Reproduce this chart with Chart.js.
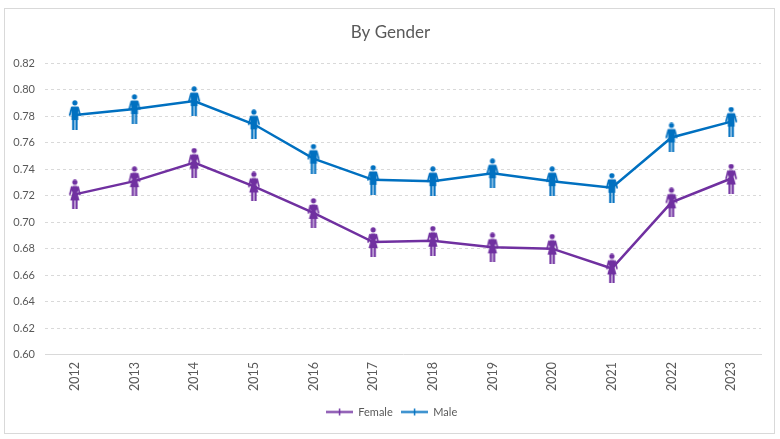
<!DOCTYPE html>
<html>
<head>
<meta charset="utf-8">
<style>
  html, body { margin: 0; padding: 0; background: #fff; }
  #wrap { position: absolute; left: 0; top: 0; width: 780px; height: 439px; }
  #frame { position: absolute; left: 4px; top: 8px; width: 769px; height: 424px; border: 1px solid #d9d9d9; }
</style>
</head>
<body>
<div id="frame"></div>
<div id="wrap"><canvas id="chart" width="780" height="439"></canvas></div>
<script src="https://cdn.jsdelivr.net/npm/chart.js@4"></script>
<script>
const years = ['2012','2013','2014','2015','2016','2017','2018','2019','2020','2021','2022','2023'];
const female = [0.721,0.731,0.745,0.727,0.707,0.685,0.686,0.681,0.680,0.665,0.715,0.733];
const male = [0.781,0.7855,0.7915,0.774,0.748,0.732,0.731,0.737,0.731,0.726,0.764,0.776];
const yTicks = [0.60,0.62,0.64,0.66,0.68,0.70,0.72,0.74,0.76,0.78,0.80,0.82];

const purple = '#7030a0';
const blue = '#0070c0';
const grey = '#595959';
const font = 'Lato, "Open Sans", sans-serif';

// person markers, used as point styles
function personIcon(color, isFemale) {
  const c = document.createElement('canvas');
  c.width = 16;
  c.height = 30;
  const g = c.getContext('2d');
  g.fillStyle = color;
  g.strokeStyle = color;
  g.beginPath();
  g.arc(8, 2.8, 2.6, 0, Math.PI * 2);
  g.fill();
  g.beginPath();
  if (isFemale) {
    g.moveTo(5.8, 6.5);
    g.lineTo(10.2, 6.5);
    g.lineTo(12, 10);
    g.lineTo(10.4, 13);
    g.lineTo(12.6, 21);
    g.lineTo(3.4, 21);
    g.lineTo(5.6, 13);
    g.lineTo(4, 10);
  } else {
    g.moveTo(4.6, 6.5);
    g.lineTo(11.4, 6.5);
    g.lineTo(11.4, 20);
    g.lineTo(4.6, 20);
  }
  g.closePath();
  g.fill();
  // arms
  g.lineCap = 'round';
  g.lineWidth = 1.7;
  g.beginPath();
  g.moveTo(4.8, 7.5);
  g.lineTo(isFemale ? 3 : 2.8, 15);
  g.moveTo(11.2, 7.5);
  g.lineTo(isFemale ? 13 : 13.2, 15);
  g.stroke();
  // legs
  g.lineCap = 'butt';
  g.lineWidth = 2.2;
  g.beginPath();
  g.moveTo(6.4, 19);
  g.lineTo(6.4, 30);
  g.moveTo(9.6, 19);
  g.lineTo(9.6, 30);
  g.stroke();
  return c;
}

// legend key: line with a small tick
function legendKey(color) {
  const c = document.createElement('canvas');
  c.width = 27;
  c.height = 9;
  const g = c.getContext('2d');
  g.fillStyle = color;
  g.fillRect(0, 3.5, 27, 2);
  g.fillRect(13, 1, 1.4, 7);
  return c;
}

const femaleKey = legendKey(purple);
const maleKey = legendKey(blue);

// title and legend sit a bit right of the canvas centre in the original
const nudgeBlocks = {
  id: 'nudgeBlocks',
  afterLayout(chart) {
    chart.titleBlock.left += 4;
    chart.titleBlock.right += 4;
    chart.legend.left += 5;
    chart.legend.right += 5;
  }
};

new Chart(document.getElementById('chart'), {
  type: 'line',
  plugins: [nudgeBlocks],
  data: {
    labels: years,
    datasets: [
      {
        label: 'Female',
        data: female,
        borderColor: purple,
        backgroundColor: purple,
        borderWidth: 2.5,
        tension: 0,
        pointStyle: personIcon(purple, true)
      },
      {
        label: 'Male',
        data: male,
        borderColor: blue,
        backgroundColor: blue,
        borderWidth: 2.5,
        tension: 0,
        pointStyle: personIcon(blue, false)
      }
    ]
  },
  options: {
    responsive: false,
    animation: false,
    layout: { padding: { left: 12, right: 19, top: 22, bottom: 11.5 } },
    plugins: {
      title: {
        display: true,
        text: 'By Gender',
        color: grey,
        font: { family: font, size: 17, weight: 'normal' },
        padding: { top: 0, bottom: 21 }
      },
      legend: {
        position: 'bottom',
        labels: {
          color: grey,
          font: { family: font, size: 11 },
          usePointStyle: true,
          pointStyleWidth: 27,
          boxHeight: 9,
          padding: 8,
          generateLabels(chart) {
            return chart.data.datasets.map((ds, i) => ({
              text: ds.label,
              fontColor: grey,
              pointStyle: i === 0 ? femaleKey : maleKey,
              datasetIndex: i,
              lineWidth: 0,
              strokeStyle: 'transparent',
              fillStyle: ds.borderColor
            }));
          }
        }
      },
      tooltip: { enabled: false }
    },
    scales: {
      x: {
        offset: true,
        grid: { display: false, drawTicks: false },
        border: { color: '#d9d9d9' },
        ticks: {
          color: grey,
          font: { family: font, size: 12.5 },
          maxRotation: 90,
          minRotation: 90,
          padding: 7.5
        }
      },
      y: {
        min: 0.60,
        max: 0.82,
        afterBuildTicks(axis) {
          axis.ticks = yTicks.map(v => ({ value: v }));
        },
        afterFit(axis) {
          axis.width = 33;
        },
        grid: { color: '#d9d9d9', drawTicks: false },
        border: { display: false, dash: [3, 3] },
        ticks: {
          color: grey,
          font: { family: font, size: 11 },
          padding: 10,
          callback: v => v.toFixed(2)
        }
      }
    }
  }
});
</script>
</body>
</html>
